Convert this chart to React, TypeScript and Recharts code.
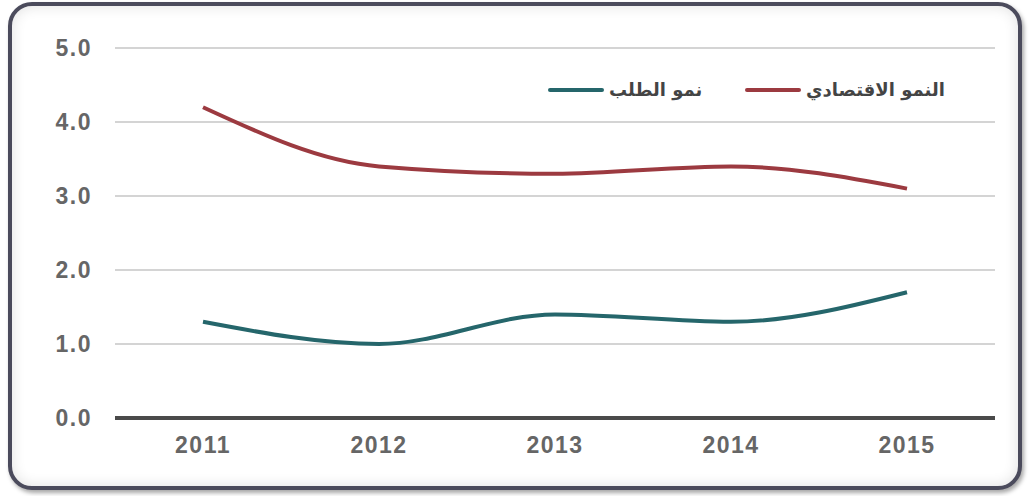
import { LineChart, Line, XAxis, YAxis, CartesianGrid } from 'recharts'

const years = ['2011', '2012', '2013', '2014', '2015']
const economicGrowth = [4.2, 3.4, 3.3, 3.4, 3.1]
const demandGrowth = [1.3, 1.0, 1.4, 1.3, 1.7]
const yTicks = [0, 1, 2, 3, 4, 5]

const seriesNames = {
  economic: 'النمو الاقتصادي',
  demand: 'نمو الطلب',
}

const RED = '#9c3a40'
const TEAL = '#25666b'

const data = years.map((year, i) => ({
  year,
  economic: economicGrowth[i],
  demand: demandGrowth[i],
}))

const tickStyle = {
  fontFamily: '"Liberation Sans", Arial, sans-serif',
  fontWeight: 700,
  fontSize: 23,
  fill: '#666',
  letterSpacing: 1.5,
}

// legend entry: swatch on the left, label (rtl) to its right
function LegendItem({ color, label, left, textWidth }: { color: string; label: string; left: number; textWidth: number }) {
  return (
    <div style={{ position: 'absolute', left, top: 79, display: 'flex', alignItems: 'center', gap: 5 }}>
      <div style={{ width: 56, height: 4, background: color, borderRadius: 2 }} />
      <span
        style={{
          direction: 'rtl',
          width: textWidth,
          textAlign: 'left',
          fontFamily: '"DejaVu Sans", sans-serif',
          fontWeight: 700,
          fontSize: 18,
          color: '#444',
          whiteSpace: 'nowrap',
        }}
      >
        {label}
      </span>
    </div>
  )
}

export default function App() {
  return (
    <div style={{ position: 'absolute', left: 0, top: 0, width: 1030, height: 496, background: '#fff' }}>
      <div
        style={{
          position: 'absolute',
          left: 8,
          top: 2,
          width: 1006,
          height: 480,
          border: '4px solid #4b4b5c',
          borderRadius: 24,
          boxShadow: 'inset 0 0 14px rgba(0,0,0,0.12), 2px 3px 4px rgba(0,0,0,0.35)',
          background: '#fff',
        }}
      />
      <div style={{ position: 'absolute', left: 0, top: 0 }}>
        <LineChart width={1030} height={496} data={data} margin={{ top: 48, right: 35, left: 0, bottom: 48 }}>
          <CartesianGrid vertical={false} stroke="#d4d4d4" strokeWidth={2} />
          <XAxis
            dataKey="year"
            padding={{ left: 88, right: 88 }}
            axisLine={{ stroke: '#4a4a4a', strokeWidth: 4 }}
            tickLine={false}
            tickSize={0}
            tickMargin={19}
            tick={tickStyle}
          />
          <YAxis
            width={115}
            domain={[0, 5]}
            ticks={yTicks}
            interval={0}
            axisLine={false}
            tickLine={false}
            tickSize={0}
            tickMargin={23}
            tick={tickStyle}
            tickFormatter={(v: number) => v.toFixed(1)}
          />
          <Line
            type="monotone"
            dataKey="economic"
            name={seriesNames.economic}
            stroke={RED}
            strokeWidth={4}
            dot={false}
            isAnimationActive={false}
          />
          <Line
            type="monotone"
            dataKey="demand"
            name={seriesNames.demand}
            stroke={TEAL}
            strokeWidth={4}
            dot={false}
            isAnimationActive={false}
          />
        </LineChart>
      </div>
      <LegendItem color={TEAL} label={seriesNames.demand} left={548} textWidth={95} />
      <LegendItem color={RED} label={seriesNames.economic} left={745} textWidth={150} />
    </div>
  )
}
